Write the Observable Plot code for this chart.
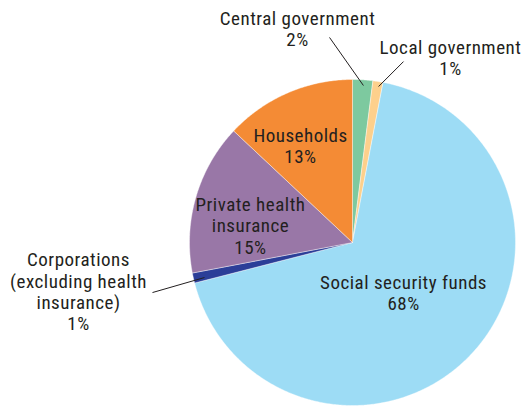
<!DOCTYPE html>
<html>
<head>
<meta charset="utf-8">
<script src="https://cdn.jsdelivr.net/npm/d3@7"></script>
<script src="https://cdn.jsdelivr.net/npm/@observablehq/plot@0.6"></script>
<style>
  html, body { margin: 0; padding: 0; background: #fff; }
  #chart svg { display: block; }
  #chart svg text { letter-spacing: 0.5px; }
</style>
</head>
<body>
<div id="chart"></div>
<script>
// Data (clockwise from 12 o'clock)
const categories = ["Central government", "Local government", "Social security funds", "Corporations (excluding health insurance)", "Private health insurance", "Households"];
const shares = [2, 1, 68, 1, 15, 13];
const labels = ["Central government\n2%", "Local government\n1%", "Social security funds\n68%", "Corporations\n(excluding health\ninsurance)\n1%", "Private health\ninsurance\n15%", "Households\n13%"];
const colors = ["#7dc99f", "#fdd08c", "#9ddcf5", "#2b3e98", "#9977a7", "#f48b35"];

// Layout (unit-circle coordinates)
const labelX = [-0.337, 0.601, 0.313, -1.681, -0.626, -0.319];
const labelY = [1.310, 1.135, -0.307, -0.301, 0.104, 0.592];
const leaders = [
  {x1: -0.141, y1: 1.258, x2: 0.067, y2: 0.963},
  {x1: 0.313, y1: 1.110, x2: 0.160, y2: 0.957},
  {x1: -1.227, y1: -0.307, x2: -0.908, y2: -0.215}
];

const total = d3.sum(shares);
const slices = [];
let acc = 0;
categories.forEach((name, i) => {
  const a0 = acc / total * 2 * Math.PI;
  acc += shares[i];
  const a1 = acc / total * 2 * Math.PI;
  slices.push({name, x: 0, y: 0});
  const n = Math.max(2, Math.ceil((a1 - a0) / (Math.PI / 360)));
  for (let k = 0; k <= n; k++) {
    const a = a0 + (a1 - a0) * k / n;
    slices.push({name, x: Math.sin(a), y: Math.cos(a)});
  }
  slices.push({name, x: 0, y: 0});
});

const labelData = categories.map((name, i) => ({name, text: labels[i], x: labelX[i], y: labelY[i]}));

const chart = Plot.plot({
  width: 522,
  height: 406,
  margin: 0,
  style: {fontFamily: "'Roboto Condensed', 'Liberation Sans Narrow', 'DejaVu Sans Condensed', sans-serif", fontSize: "19px", color: "#231f20", background: "#fff"},
  x: {domain: [-1, 1], range: [189, 515], axis: null},
  y: {domain: [-1, 1], range: [405, 79], axis: null},
  color: {domain: categories, range: colors},
  marks: [
    Plot.line(slices, {x: "x", y: "y", z: "name", fill: "name", stroke: "#fff", strokeWidth: 0.4, curve: "linear"}),
    Plot.link(leaders, {x1: "x1", y1: "y1", x2: "x2", y2: "y2", stroke: "#231f20", strokeWidth: 1}),
    Plot.text(labelData, {x: "x", y: "y", text: "text", fill: "#231f20", fontSize: 19, fontWeight: 400, lineHeight: 1.12, textAnchor: "middle"})
  ]
});
document.getElementById("chart").appendChild(chart);
</script>
</body>
</html>
